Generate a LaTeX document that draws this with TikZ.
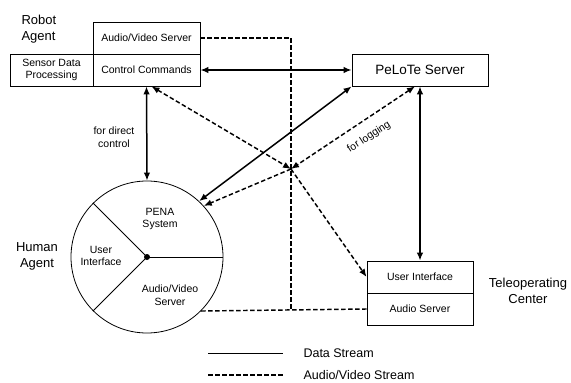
\documentclass[tikz,border=0pt]{standalone}
\usepackage{fontspec}
\setmainfont{Liberation Sans}
\usetikzlibrary{arrows.meta}
\begin{document}
\begin{tikzpicture}[x=1pt,y=-1pt,
  box/.style={draw,line width=0.8pt,inner sep=0pt,align=center,font=\fontsize{10.5}{12.5}\selectfont},
  big/.style={align=center,font=\fontsize{13}{16}\selectfont},
  small/.style={align=center,font=\fontsize{10.5}{12.5}\selectfont},
  legend/.style={anchor=west,font=\fontsize{12.5}{15}\selectfont},
  datalink/.style={line width=1.5pt,{Latex[length=8pt,width=6.5pt]}-{Latex[length=8pt,width=6.5pt]}},
  avlink/.style={line width=1.45pt,dash pattern=on 4.5pt off 2.5pt},
  avboth/.style={avlink,{Latex[length=8pt,width=6.5pt]}-{Latex[length=8pt,width=6.5pt]}},
  avarrow/.style={avlink,-{Latex[length=8pt,width=6.5pt]}},
]
\useasboundingbox (0,0) rectangle (571,383);

% Robot agent
\node[big,align=left,anchor=west] (robot) at (18,29) {Robot\\Agent};
\node[box,minimum width=107pt,minimum height=32pt] (av) at (146.5,38) {Audio/Video Server};
\node[box,minimum width=107pt,minimum height=32pt] (cc) at (146.5,70) {Control Commands};
\node[box,minimum width=83pt,minimum height=32pt] (sdp) at (51.5,70) {Sensor Data\\Processing};

% PeLoTe server
\node[box,minimum width=136pt,minimum height=32pt,font=\fontsize{13.5}{16}\selectfont] (pel) at (420,70) {PeLoTe Server};

% Teleoperating center
\node[box,minimum width=106pt,minimum height=32pt] (tui) at (420,277) {User Interface};
\node[box,minimum width=106pt,minimum height=32pt] (tas) at (420,309) {Audio Server};
\node[big] (tc) at (528,291) {Teleoperating\\Center};

% Human agent
\node[draw,circle,line width=0.8pt,minimum size=152pt,inner sep=0pt] (hum) at (147,257) {};
\fill (hum.center) circle (3pt);
\draw[line width=0.8pt] (hum.center) -- (hum.0);
\draw[line width=0.8pt] (hum.center) -- (hum.135);
\draw[line width=0.8pt] (hum.center) -- (hum.225);
\node[small] (pena) at (160,219) {PENA\\System};
\node[small] (hui) at (101,256) {User\\Interface};
\node[small] (hav) at (170,295) {Audio/Video\\Server};
\node[big] (ha) at (37,256) {Human\\Agent};

% Data streams
\draw[datalink] (cc.east) -- (pel.west);
\draw[datalink] (cc.south) -- (hum.north);
\draw[datalink] (pel.south west) -- (hum.47);
\draw[datalink] (pel.south) -- (tui.north);
\node[small] (fdc) at (114,137) {for direct\\control};

% Audio/video streams
\coordinate (j) at (291,169);
\coordinate (avc) at (291,38);
\coordinate (bot) at (291,309);
\draw[avlink] (av.east) -- (avc) -- (bot);
\draw[avlink] (hum.-45) -- (tas.west);
\draw[avboth] ([xshift=5pt]cc.south) -- (j);
\draw[avboth] ([xshift=-5pt]pel.south) -- (j);
\draw[avarrow] (j) -- (hum.42);
\draw[avarrow] (j) -- (tui.west);
\node[small,rotate=33] (log) at (369,137) {for logging};

% Legend
\coordinate (l1a) at (208,353);
\coordinate (l1b) at (283,353);
\coordinate (l2a) at (208,375);
\coordinate (l2b) at (283,375);
\draw[line width=0.8pt] (l1a) -- (l1b);
\draw[avlink] (l2a) -- (l2b);
\node[legend] (ld) at (300,353) {Data Stream};
\node[legend] (la) at (300,375) {Audio/Video Stream};
\end{tikzpicture}
\end{document}
